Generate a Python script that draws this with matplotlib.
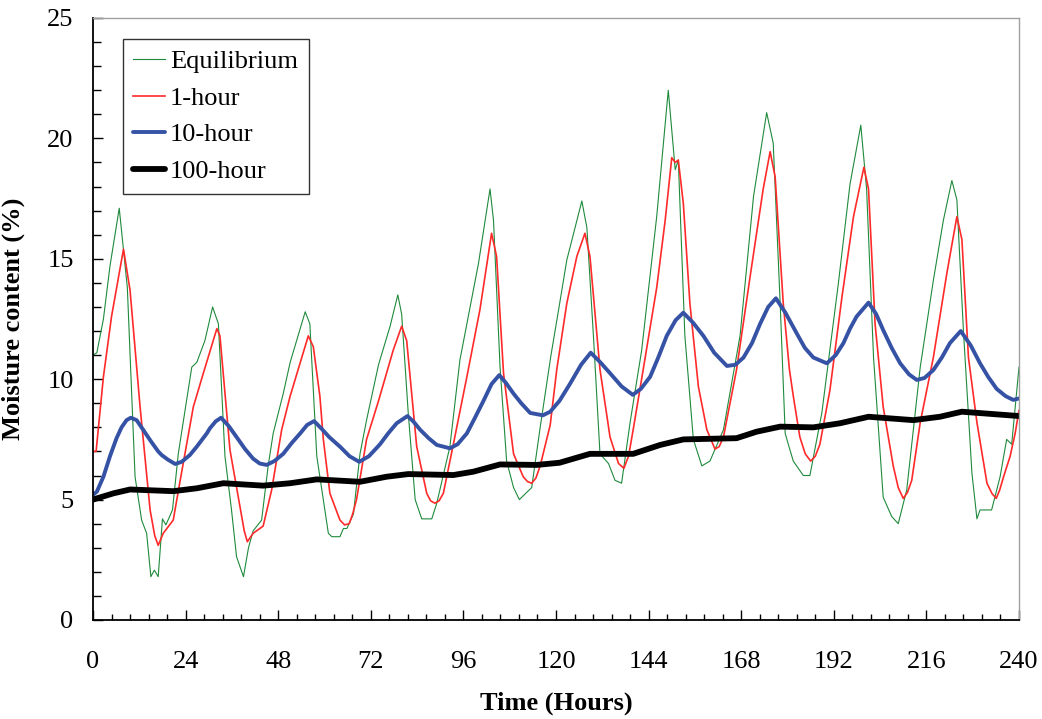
import matplotlib
matplotlib.use("Agg")
import matplotlib.pyplot as plt
from matplotlib.ticker import MultipleLocator

plt.rcParams['font.family'] = ['Liberation Serif', 'DejaVu Serif']

# ---- data ----
eq_t = [0, 1.0, 2.7, 4.4, 6.8, 8.9, 10.9, 12.6, 13.9, 15.0, 15.9, 16.9, 18.0, 18.9, 20.6, 22.1, 23.8,
        25.6, 26.9, 29.0, 31.0, 32.5, 34.2, 35.9, 37.2, 39.0, 40.3, 41.5, 43.7, 45.4, 46.7, 49.3,
        51.1, 55.0, 56.2, 58.0, 61.0, 61.9, 64.0, 64.9, 65.8, 67.5, 69.2, 70.9, 74.0, 77.0, 79.0,
        80.0, 81.7, 83.5, 85.2, 87.8, 89.1, 92.5, 95.1, 96.9, 99.9, 102.9, 103.8, 105.5, 107.2,
        109.0, 110.5, 113.7, 115.9, 118.7, 120.9, 122.8, 126.7, 128.0, 129.7, 131.4, 133.6, 135.3,
        137.0, 139.2, 142.2, 146.1, 149.1, 150.9, 151.7, 153.4, 155.6, 157.8, 159.9, 163.4, 167.7,
        171.2, 174.6, 176.3, 178.1, 179.4, 180.2, 181.5, 184.1, 185.8, 188.9, 193.2, 196.2, 199.0,
        200.5, 202.3, 204.8, 207.0, 208.7, 210.9, 214.4, 217.8, 220.4, 222.6, 223.9, 225.6, 227.8,
        229.1, 229.9, 232.9, 235.1, 236.8, 238.1, 240]
eq_v = [11.0, 11.1, 12.5, 14.7, 17.1, 13.8, 5.95, 4.15, 3.6, 1.8, 2.07, 1.8, 4.2, 3.95, 4.57, 6.9, 8.65,
        10.5, 10.7, 11.6, 13.0, 12.3, 6.8, 4.57, 2.63, 1.8, 3.0, 3.7, 4.15, 6.4, 7.75, 9.4,
        10.7, 12.8, 12.3, 6.8, 3.6, 3.46, 3.46, 3.8, 3.8, 4.4, 6.9, 8.3, 10.6, 12.2, 13.5,
        12.7, 8.6, 5.0, 4.2, 4.2, 4.85, 7.2, 10.8, 12.3, 14.8, 17.9, 16.6, 10.5, 6.6,
        5.5, 5.0, 5.5, 8.0, 11.0, 13.1, 14.95, 17.4, 16.3, 11.8, 6.9, 6.5, 5.8,
        5.68, 8.2, 11.2, 16.75, 22.0, 18.7, 19.1, 11.8, 7.5, 6.4, 6.6, 7.9, 11.8,
        17.6, 21.07, 19.8, 13.15, 7.75, 7.3, 6.6, 6.0, 6.0, 8.6, 14.0, 18.1, 20.55,
        17.9, 10.9, 5.1, 4.3, 4.0, 5.4, 10.5, 14.1, 16.6, 18.25, 17.45, 12.0, 6.1,
        4.2, 4.57, 4.57, 5.95, 7.5, 7.3, 10.5]

h1_t = [0, 0.8, 2.7, 4.8, 7.9, 9.6, 12.2, 14.8, 16.0, 16.9, 18.2, 20.8, 22.6, 26.0, 28.6, 32.1, 32.9,
        35.5, 38.1, 39.2, 40.0, 41.5, 44.1, 46.3, 48.9, 51.1, 55.8, 57.1, 58.8, 59.7, 61.4, 64.0,
        65.2, 66.4, 67.3, 68.3, 70.9, 74.0, 77.8, 80.0, 81.3, 83.9, 86.5, 87.5, 88.6, 89.7, 90.8,
        93.4, 96.9, 100.3, 103.3, 104.6, 106.4, 109.0, 111.5, 112.6, 113.7, 114.8, 115.9, 118.5,
        120.2, 122.8, 125.4, 127.5, 128.8, 131.4, 134.0, 136.2, 137.6, 138.8, 140.0, 142.6, 146.1,
        148.3, 150.0, 150.9, 151.7, 153.0, 154.7, 156.9, 159.1, 161.2, 162.3, 163.4, 166.8, 170.3,
        173.7, 175.5, 176.8, 178.9, 180.5, 181.5, 183.2, 184.6, 186.0, 187.2, 188.4, 191.0, 194.1,
        197.1, 199.8, 201.0, 202.7, 204.8, 207.4, 208.7, 210.0, 211.1, 212.2, 214.4, 217.8, 221.3,
        223.9, 225.2, 226.9, 229.1, 231.7, 233.0, 234.1, 235.0, 236.0, 237.7, 239.0, 240]
h1_v = [7.0, 7.0, 10.1, 12.6, 15.4, 13.7, 8.85, 4.57, 3.5, 3.1, 3.6, 4.15, 5.8, 8.85, 10.25, 12.1, 11.8,
        7.06, 4.7, 3.7, 3.25, 3.6, 3.9, 5.4, 7.9, 9.3, 11.8, 11.35, 9.3, 7.5, 5.26, 4.15,
        3.95, 4.0, 4.4, 5.0, 7.5, 9.1, 11.2, 12.2, 11.6, 7.2, 5.26, 4.95, 4.85, 4.95, 5.26,
        7.3, 10.1, 12.9, 16.06, 15.1, 10.25, 6.9, 5.95, 5.75, 5.68, 5.9, 6.4, 8.1,
        10.4, 13.15, 15.1, 16.06, 15.1, 10.4, 7.6, 6.5, 6.3, 6.8, 7.9, 10.4, 13.8,
        16.6, 19.2, 19.0, 19.1, 17.3, 13.15, 9.7, 7.9, 7.1, 7.2, 7.6, 10.4, 14.25,
        17.9, 19.45, 18.4, 13.15, 10.4, 9.3, 7.6, 6.9, 6.6, 6.8, 7.3, 9.55, 13.4,
        16.75, 18.8, 17.9, 12.3, 8.85, 6.4, 5.5, 5.05, 5.3, 5.8, 8.2, 10.9, 14.4,
        16.75, 15.8, 10.9, 8.2, 5.68, 5.25, 5.05, 5.4, 5.95, 6.8, 7.75, 8.7]

h10_t = [0, 1.0, 2.7, 4.4, 6.1, 7.4, 8.7, 9.8, 11.3, 13.0, 14.8, 16.9, 17.8, 19.5, 21.3, 23.0, 25.1,
         26.9, 29.5, 30.3, 31.8, 33.2, 35.2, 37.2, 39.4, 41.5, 43.2, 45.0, 47.0, 49.3, 51.5, 53.7,
         55.5, 57.3, 59.2, 61.2, 64.0, 66.5, 69.0, 71.5, 74.4, 76.5, 78.7, 81.5, 83.0, 84.8, 87.0,
         89.1, 92.5, 94.5, 96.9, 99.0, 101.2, 103.3, 105.3, 107.0, 109.0, 111.0, 113.3, 116.6,
         118.5, 120.9, 123.6, 126.5, 129.0, 131.5, 134.0, 137.0, 139.9, 142.0, 144.4, 146.5,
         148.7, 151.0, 153.0, 155.5, 158.2, 161.0, 164.3, 166.5, 168.6, 170.8, 172.9, 175.0,
         177.0, 179.5, 182.4, 184.5, 186.7, 190.2, 192.5, 194.5, 196.2, 197.9, 201.0, 203.0,
         204.8, 207.0, 209.2, 211.5, 213.5, 215.5, 217.8, 220.0, 222.1, 224.9, 227.5, 229.9,
         232.0, 234.2, 236.5, 238.5, 240]
h10_v = [5.2, 5.33, 5.95, 6.8, 7.55, 8.0, 8.3, 8.4, 8.3, 7.9, 7.47, 7.0, 6.85, 6.65, 6.48, 6.57, 6.85,
         7.2, 7.75, 7.96, 8.25, 8.4, 8.05, 7.6, 7.1, 6.7, 6.5, 6.44, 6.6, 6.9, 7.35, 7.75,
         8.1, 8.26, 7.95, 7.6, 7.2, 6.8, 6.57, 6.8, 7.3, 7.75, 8.17, 8.47, 8.25, 7.9, 7.55,
         7.27, 7.13, 7.3, 7.75, 8.4, 9.1, 9.8, 10.17, 9.85, 9.4, 9.0, 8.6, 8.5,
         8.65, 9.1, 9.8, 10.6, 11.1, 10.7, 10.25, 9.7, 9.35, 9.6, 10.1, 10.9,
         11.8, 12.45, 12.76, 12.35, 11.8, 11.1, 10.55, 10.6, 10.9, 11.5, 12.3, 13.0,
         13.36, 12.75, 11.9, 11.3, 10.9, 10.66, 11.0, 11.5, 12.1, 12.6, 13.18, 12.7,
         12.04, 11.3, 10.66, 10.2, 9.97, 10.05, 10.38, 10.9, 11.5, 12.0, 11.4, 10.66,
         10.1, 9.6, 9.3, 9.14, 9.2]

h100_t = [0, 1, 5.3, 9.6, 20.8, 26.9, 33.8, 44.1, 51.1, 58.0, 69.2, 76.1, 81.7, 93.4, 98.6, 105.5,
          115.0, 120.9, 128.8, 140.0, 147.0, 153.0, 166.8, 172.0, 178.1, 186.7, 193.6, 201.0,
          212.6, 219.5, 225.2, 240]
h100_v = [5.0, 5.05, 5.26, 5.42, 5.35, 5.47, 5.68, 5.58, 5.68, 5.84, 5.74, 5.95, 6.06, 6.02, 6.16, 6.46,
          6.44, 6.53, 6.9, 6.9, 7.27, 7.5, 7.55, 7.82, 8.03, 8.0, 8.17, 8.44,
          8.3, 8.44, 8.65, 8.47]

x_ticks = [0, 24, 48, 72, 96, 120, 144, 168, 192, 216, 240]
y_ticks = [0, 5, 10, 15, 20, 25]

# ---- figure ----
fig = plt.figure(figsize=(10.42, 7.19), dpi=100)
ax = fig.add_axes([93/1042, 1 - 620/719, (1019-93)/1042, (620-18)/719])

ax.plot(eq_t, eq_v, color='#1f8a3c', lw=0.8, label='Equilibrium')
ax.plot(h1_t, h1_v, color='#ff2a2a', lw=1.2, label='1-hour')
ax.plot(h10_t, h10_v, color='#3552a5', lw=2.8, label='10-hour',
        solid_capstyle='round', solid_joinstyle='round')
ax.plot(h100_t, h100_v, color='black', lw=4.2, label='100-hour',
        solid_capstyle='round', solid_joinstyle='round')

ax.set_xlim(0, 240)
ax.set_ylim(0, 25)
ax.set_xticks(x_ticks)
ax.set_yticks(y_ticks)
ax.xaxis.set_minor_locator(MultipleLocator(4.8))
ax.yaxis.set_minor_locator(MultipleLocator(1))
ax.tick_params(which='both', direction='in', top=False, right=False, labelsize=19, width=1.0)
ax.tick_params(axis='x', which='major', length=7, pad=22)
ax.tick_params(axis='x', which='minor', length=4)
ax.tick_params(axis='y', which='major', length=7, pad=14)
ax.tick_params(axis='y', which='minor', length=6)

for s in ['left', 'bottom']:
    ax.spines[s].set_color('black')
    ax.spines[s].set_linewidth(1.3)
for s in ['top', 'right']:
    ax.spines[s].set_color('#a0a0a0')
    ax.spines[s].set_linewidth(1.0)

ax.set_xlabel('Time (Hours)', fontsize=19, fontweight='bold', labelpad=14)
ax.set_ylabel('Moisture content (%)', fontsize=19, fontweight='bold', labelpad=16)

leg = ax.legend(loc='upper left', bbox_to_anchor=(0.032, 0.965), borderaxespad=0,
                fontsize=19, frameon=True, fancybox=False, handlelength=1.2,
                handletextpad=0.2, labelspacing=0.5, borderpad=0.4)
leg.get_frame().set_edgecolor('black')
leg.get_frame().set_linewidth(1.0)

fig.savefig('out.png', dpi=100)
